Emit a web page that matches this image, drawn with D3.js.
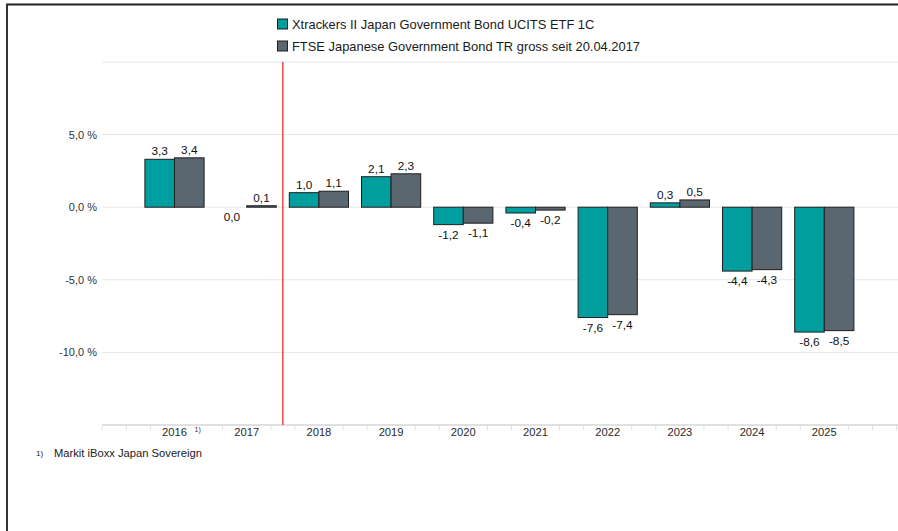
<!DOCTYPE html>
<html><head><meta charset="utf-8">
<script src="https://cdn.jsdelivr.net/npm/d3@7"></script>
<style>
body{margin:0;background:#fff;}
svg{display:block;font-family:"Liberation Sans",Arial,sans-serif;}
</style></head>
<body><svg id="c" width="898" height="531"></svg>
<script>
const years = ["2016","2017","2018","2019","2020","2021","2022","2023","2024","2025"];
const seriesNames = ["Xtrackers II Japan Government Bond UCITS ETF 1C","FTSE Japanese Government Bond TR gross seit 20.04.2017"];
const etfValues = [3.3, 0.0, 1.0, 2.1, -1.2, -0.4, -7.6, 0.3, -4.4, -8.6];
const indexValues = [3.4, 0.1, 1.1, 2.3, -1.1, -0.2, -7.4, 0.5, -4.3, -8.5];
const yTicks = [-15, -10, -5, 0, 5, 10];
const yLabelTicks = [-10, -5, 0, 5];
const footnote = "Markit iBoxx Japan Sovereign";
const footMark = "1)";
const colors = ["#009e9e", "#5a6670"];

const svg = d3.select("#c");
const fmt = v => d3.format(".1f")(v).replace(".", ",").replace("−","-");

const x = d3.scaleBand().domain(years).range([138.4, 860.4]).paddingInner(0.18).paddingOuter(0.09);
const x1 = d3.scaleBand().domain([0,1]).range([0, x.bandwidth()]);
const y = d3.scaleLinear().domain([-15, 10]).range([425, 62]);
const step = x.step();
const xLeft = 102, xRight = 898;

// frame
svg.append("line").attr("x1",6).attr("x2",898).attr("y1",4.5).attr("y2",4.5).attr("stroke","#222").attr("stroke-width",2);
svg.append("line").attr("x1",7).attr("x2",7).attr("y1",4).attr("y2",531).attr("stroke","#333").attr("stroke-width",2);

// grid
svg.append("g").selectAll("line").data(yTicks.filter(d=>d>-15)).join("line")
  .attr("x1",xLeft).attr("x2",xRight).attr("y1",d=>y(d)).attr("y2",d=>y(d))
  .attr("stroke","#e6e6e6").attr("stroke-width",1);

// x axis line and ticks
const c0 = x("2016") + x.bandwidth()/2;
const tickPos = [];
for (let i=-3;;i++){ const p = c0 + i*step/3; if (p < xLeft-1) continue; if (p > xRight) break; tickPos.push(p); }
svg.append("line").attr("x1",xLeft).attr("x2",xRight).attr("y1",425).attr("y2",425).attr("stroke","#e0e0e0").attr("stroke-width",2);
svg.append("g").selectAll("line").data(tickPos).join("line")
  .attr("x1",d=>d).attr("x2",d=>d).attr("y1",425).attr("y2",430.5)
  .attr("stroke","#e0e0e0").attr("stroke-width",1);

// y labels
svg.append("g").selectAll("text").data(yLabelTicks).join("text")
  .attr("x",97).attr("y",d=>y(d)+4).attr("text-anchor","end")
  .attr("font-size",11).attr("fill","#333").text(d=>fmt(d)+" %");

// x labels with white backgrounds
const xl = svg.append("g");
years.forEach((yr,i)=>{
  const cx = x(yr)+x.bandwidth()/2;
  const extra = i===0 ? 16 : 0;
  xl.append("rect").attr("x",cx-16).attr("y",426).attr("width",32+extra).attr("height",12).attr("fill","#fff");
  xl.append("text").attr("x",cx).attr("y",436).attr("text-anchor","middle").attr("font-size",11.2).attr("fill","#2a2a2a").text(yr);
  if (i===0) xl.append("text").attr("x",cx+20).attr("y",432).attr("font-size",7).attr("fill","#333").text(footMark);
});

// red line
const redX = (x("2017")+x.bandwidth()/2 + x("2018")+x.bandwidth()/2)/2;
svg.append("line").attr("x1",redX).attr("x2",redX).attr("y1",62).attr("y2",425).attr("stroke","#f04848").attr("stroke-width",1.5);

// bars
const data = years.map((yr,i)=>({yr, vals:[etfValues[i], indexValues[i]]}));
const g = svg.append("g");
data.forEach(d=>{
  d.vals.forEach((v,s)=>{
    const bx = x(d.yr)+x1(s);
    if (v !== 0) {
      g.append("rect").attr("x",bx).attr("width",x1.bandwidth())
        .attr("y",Math.min(y(v),y(0))).attr("height",Math.abs(y(v)-y(0)))
        .attr("fill",colors[s]).attr("stroke","#1e1e1e").attr("stroke-width",1);
    }
    const ly = v > 0 ? y(v)-4 : y(v)+14;
    g.append("text").attr("x",bx+x1.bandwidth()/2).attr("y",ly).attr("text-anchor","middle")
      .attr("font-size",11.8).attr("fill","#111").text(fmt(v));
  });
});

// legend
const lg = svg.append("g");
seriesNames.forEach((n,i)=>{
  const cy = 24 + i*22;
  lg.append("rect").attr("x",277.5).attr("y",cy-5).attr("width",10).attr("height",10)
    .attr("fill",colors[i]).attr("stroke","#1e1e1e").attr("stroke-width",1);
  lg.append("text").attr("x",292).attr("y",cy+4.5).attr("font-size",12.9).attr("fill","#1a1a1a").text(n);
});

// footnote
svg.append("text").attr("x",36).attr("y",456).attr("font-size",8).attr("fill","#222").text(footMark);
svg.append("text").attr("x",54).attr("y",457).attr("font-size",11.2).attr("fill","#1a1a1a").text(footnote);
</script></body></html>
